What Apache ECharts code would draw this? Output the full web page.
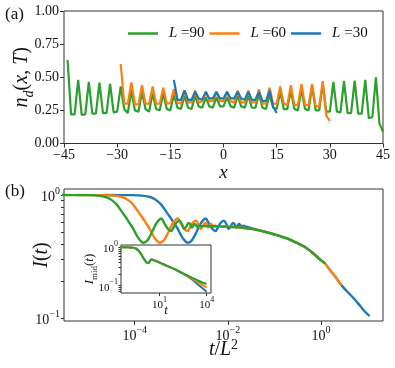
<!DOCTYPE html>
<html>
<head>
<meta charset="utf-8">
<script src="https://cdn.jsdelivr.net/npm/echarts@6/dist/echarts.min.js"></script>
<style>
html, body { margin: 0; padding: 0; background: #fff; }
#chart { width: 395px; height: 368px; }
</style>
</head>
<body>
<div id="chart"></div>
<script>
var FONT = '"Liberation Serif", "DejaVu Serif", serif';
var GREEN = '#2ca02c', ORANGE = '#ff7f0e', BLUE = '#1f77b4';
var AXIS = '#333';

// (a) n_d(x,T), one value per site, x = -L/2+1 ... L/2
var nd90 = [
	0.63, 0.22, 0.22,  0.48, 0.215, 0.22,  0.465, 0.225, 0.225,  0.46, 0.23, 0.23,
	0.45, 0.235, 0.24,  0.43, 0.26, 0.23,  0.40, 0.25, 0.24,  0.39, 0.26, 0.24,
	0.38, 0.26, 0.25,  0.38, 0.26, 0.25,  0.37, 0.27, 0.26,  0.36, 0.27, 0.26,
	0.36, 0.28, 0.27,  0.35, 0.28, 0.27,  0.35, 0.28, 0.28,  0.35, 0.28, 0.27,
	0.36, 0.28, 0.27,  0.36, 0.27, 0.27,  0.37, 0.27, 0.26,  0.37, 0.27, 0.26,
	0.39, 0.26, 0.26,  0.40, 0.26, 0.25,  0.41, 0.26, 0.25,  0.43, 0.25, 0.25,
	0.45, 0.24, 0.24,  0.465, 0.24, 0.235,  0.47, 0.23, 0.23,  0.475, 0.225, 0.225,
	0.48, 0.19, 0.20,  0.50, 0.15, 0.09
];
var nd60 = [
	0.60, 0.30, 0.30,  0.46, 0.295, 0.295,  0.44, 0.30, 0.30,  0.43, 0.30, 0.30,
	0.42, 0.30, 0.305,  0.41, 0.31, 0.30,  0.40, 0.31, 0.31,  0.40, 0.31, 0.32,
	0.39, 0.32, 0.32,  0.39, 0.32, 0.32,  0.39, 0.32, 0.31,  0.40, 0.31, 0.31,
	0.40, 0.31, 0.31,  0.41, 0.30, 0.30,  0.42, 0.30, 0.30,  0.43, 0.30, 0.29,
	0.44, 0.29, 0.29,  0.45, 0.29, 0.29,  0.45, 0.28, 0.28,  0.47, 0.21, 0.17
];
var nd30 = [
	0.48, 0.33, 0.33,  0.40, 0.33, 0.33,  0.39, 0.34, 0.33,  0.39, 0.34, 0.34,
	0.39, 0.34, 0.34,  0.39, 0.34, 0.34,  0.39, 0.34, 0.33,  0.39, 0.33, 0.33,
	0.39, 0.32, 0.32,  0.40, 0.28, 0.23
];

// (b) early times: I(t) is the same for every L, read in t
var earlyT = [0.02, 0.08, 0.13, 0.2, 0.26, 0.33, 0.42, 0.52, 0.63, 0.76, 0.88, 1.0, 1.22, 1.45, 1.7,
	2.0, 2.36, 2.7, 3.0, 3.5, 4.2, 4.9, 5.6, 6.2, 7.4, 8.4, 9.3, 10.4, 11.5, 12.6, 13.6, 14.6,
	15.6, 16.8, 18.0, 19.3, 20.5];
var earlyI = [1.0, 0.998, 0.99, 0.96, 0.91, 0.84, 0.74, 0.66, 0.59, 0.53, 0.475, 0.44, 0.41, 0.42, 0.46,
	0.52, 0.59, 0.63, 0.645, 0.59, 0.53, 0.51, 0.55, 0.59, 0.62, 0.58, 0.53, 0.555, 0.595, 0.58, 0.545, 0.56,
	0.585, 0.57, 0.55, 0.565, 0.56];
// (b) late times: collapse on t/L^2
var lateX = [0.0025, 0.005, 0.01, 0.0229, 0.05, 0.1, 0.2, 0.3, 0.447, 0.63, 0.79, 1.0, 1.23,
	1.58, 2.0, 2.77, 3.5, 5.0, 7.1, 8.9, 11.1];
var lateI = [0.565, 0.56, 0.553, 0.54, 0.515, 0.48, 0.44, 0.41, 0.38, 0.345, 0.32, 0.296, 0.278,
	0.245, 0.22, 0.185, 0.168, 0.146, 0.125, 0.113, 0.104];

// inset: I_mid(t)
var insetT = [0.03, 0.1, 0.2, 0.3, 0.45, 0.7, 1.0, 1.4, 1.9, 2.5, 3.1, 5, 10, 35, 100, 300, 1000, 3000, 10000];
var insetI90 = [1.0, 0.995, 0.98, 0.93, 0.82, 0.64, 0.5, 0.41, 0.39, 0.45, 0.48, 0.45, 0.40, 0.318, 0.265, 0.21, 0.168, 0.135, 0.11];
var insetI60 = [1.0, 0.995, 0.98, 0.93, 0.82, 0.64, 0.5, 0.41, 0.39, 0.45, 0.48, 0.45, 0.40, 0.318, 0.265, 0.21, 0.16, 0.12, 0.09];
var insetI30 = [1.0, 0.995, 0.98, 0.93, 0.82, 0.64, 0.5, 0.41, 0.39, 0.45, 0.48, 0.45, 0.40, 0.318, 0.262, 0.205, 0.152, 0.105, 0.07];

var names = ['L =90', 'L =60', 'L =30'];

function sites(vals, L) {
	var out = [];
	for (var i = 0; i < vals.length; i++) out.push([i - L / 2 + 1, vals[i]]);
	return out;
}

function collapsed(L) {
	var L2 = L * L, pts = [];
	for (var i = 0; i < earlyT.length; i++) {
		if (earlyT[i] <= 20.5) pts.push([earlyT[i] / L2, earlyI[i]]);
	}
	for (var j = 0; j < lateX.length; j++) {
		if (lateX[j] >= 22 / L2 && lateX[j] <= 1e4 / L2) pts.push([lateX[j], lateI[j]]);
	}
	return pts;
}

function pairs(xs, ys) {
	var out = [];
	for (var i = 0; i < xs.length; i++) out.push([xs[i], ys[i]]);
	return out;
}

function pow10(v) {
	var e = Math.round(Math.log10(v));
	return '{b|10}{s|' + String(e).replace('-', '\u2212') + '}';
}

function richPow(size) {
	var small = Math.round(size * 0.7);
	return {
		b: { fontFamily: FONT, fontSize: size, color: '#111', lineHeight: size + 4, verticalAlign: 'bottom' },
		s: { fontFamily: FONT, fontSize: small, color: '#111', lineHeight: small, verticalAlign: 'top' }
	};
}

var minorMain = [0.1, 0.2, 0.3, 0.4, 0.5, 0.6, 0.7, 0.8, 0.9, 1];
var minorInset = [0.07, 0.08, 0.09, 0.1, 0.2, 0.3, 0.4, 0.5, 0.6, 0.7, 0.8, 0.9, 1];

function lineSeries(name, data, color, x, y, z, width) {
	return {
		name: name, type: 'line', data: data,
		xAxisIndex: x, yAxisIndex: y, z: z,
		showSymbol: false, symbol: 'none', smooth: x > 0 ? 0.3 : false,
		lineStyle: { color: color, width: width },
		itemStyle: { color: color },
		animation: false
	};
}

var chart = echarts.init(document.getElementById('chart'));

var option = {
	animation: false,
	backgroundColor: '#fff',
	grid: [
		{ left: 64, top: 11, width: 319, height: 132.5, show: true, borderColor: AXIS, borderWidth: 1, backgroundColor: 'transparent' },
		{ left: 64, top: 189, width: 319, height: 132, show: true, borderColor: AXIS, borderWidth: 1, backgroundColor: 'transparent' },
		{ left: 121, top: 245, width: 90, height: 48, show: true, borderColor: AXIS, borderWidth: 1, backgroundColor: '#fff', z: 10 }
	],
	legend: {
		left: 128, top: 18, padding: 0, itemGap: 5,
		itemWidth: 30, itemHeight: 2.5, icon: 'rect',
		data: names,
		formatter: function (n) { return '{i|L} =' + n.split('=')[1]; },
		textStyle: {
			fontFamily: FONT, fontSize: 15, color: '#111',
			rich: { i: { fontFamily: FONT, fontSize: 15, fontStyle: 'italic', color: '#111', padding: [0, 0, 0, 6] } }
		}
	},
	xAxis: [
		{
			gridIndex: 0, type: 'value', min: -45, max: 45, interval: 15,
			name: 'x', nameLocation: 'middle', nameGap: 20, nameMoveOverlap: false,
			nameTextStyle: { fontFamily: FONT, fontSize: 19, fontStyle: 'italic', color: '#111' },
			axisLine: { show: false, onZero: false }, splitLine: { show: false },
			axisTick: { length: 4, lineStyle: { color: AXIS } },
			axisLabel: {
				margin: 5, fontFamily: FONT, fontSize: 14, color: '#111',
				formatter: function (v) { return v < 0 ? '\u2212' + Math.abs(v) : String(v); }
			}
		},
		{
			gridIndex: 1, type: 'log', min: 3.02e-6, max: 21.6,
			name: '{i|t}{r|/}{i|L}{s|2}', nameLocation: 'middle', nameGap: 17, nameMoveOverlap: false,
			nameTextStyle: {
				rich: {
					i: { fontFamily: FONT, fontSize: 20, fontStyle: 'italic', color: '#111', lineHeight: 22, verticalAlign: 'bottom' },
					r: { fontFamily: FONT, fontSize: 20, color: '#111', lineHeight: 22, verticalAlign: 'bottom' },
					s: { fontFamily: FONT, fontSize: 14, color: '#111', lineHeight: 14, verticalAlign: 'top' }
				}
			},
			axisLine: { show: false, onZero: false }, splitLine: { show: false },
			axisTick: { length: 4, lineStyle: { color: AXIS }, customValues: [1e-4, 1e-2, 1] },
			axisLabel: { margin: 4, customValues: [1e-4, 1e-2, 1], formatter: pow10, rich: richPow(14) }
		},
		{
			gridIndex: 2, type: 'log', min: 0.0344, max: 1.9e4, z: 11,
			name: 't', nameLocation: 'middle', nameGap: 11, nameMoveOverlap: false,
			nameTextStyle: { fontFamily: FONT, fontSize: 13, fontStyle: 'italic', color: '#111' },
			axisLine: { show: false, onZero: false }, splitLine: { show: false },
			axisTick: { length: 3, lineStyle: { color: AXIS }, customValues: [10, 1e4] },
			axisLabel: { margin: 3, customValues: [10, 1e4], formatter: pow10, rich: richPow(11) }
		}
	],
	yAxis: [
		{
			gridIndex: 0, type: 'value', min: 0, max: 1, interval: 0.25,
			name: '{i|n}{d|d}{r|(}{i|x}{r|, }{i|T}{r|)}', nameLocation: 'middle', nameGap: 28, nameRotate: 90,
			nameMoveOverlap: false,
			nameTextStyle: {
				rich: {
					i: { fontFamily: FONT, fontSize: 20, fontStyle: 'italic', color: '#111', lineHeight: 24, verticalAlign: 'top' },
					r: { fontFamily: FONT, fontSize: 20, color: '#111', lineHeight: 24, verticalAlign: 'top' },
					d: { fontFamily: FONT, fontSize: 14, fontStyle: 'italic', color: '#111', lineHeight: 14, verticalAlign: 'bottom' }
				}
			},
			axisLine: { show: false, onZero: false }, splitLine: { show: false },
			axisTick: { length: 4, lineStyle: { color: AXIS } },
			axisLabel: {
				margin: 5, fontFamily: FONT, fontSize: 14, color: '#111',
				formatter: function (v) { return v.toFixed(2); }
			}
		},
		{
			gridIndex: 1, type: 'log', min: 0.095, max: 1.12,
			name: '{i|I}{r|(}{i|t}{r|)}', nameLocation: 'middle', nameGap: 12, nameRotate: 90,
			nameMoveOverlap: false,
			nameTextStyle: {
				rich: {
					i: { fontFamily: FONT, fontSize: 20, fontStyle: 'italic', color: '#111' },
					r: { fontFamily: FONT, fontSize: 20, color: '#111' }
				}
			},
			axisLine: { show: false, onZero: false }, splitLine: { show: false },
			axisTick: { length: 3, lineStyle: { color: AXIS }, customValues: minorMain },
			axisLabel: { margin: 4, customValues: [0.1, 1], formatter: pow10, rich: richPow(14) }
		},
		{
			gridIndex: 2, type: 'log', min: 0.0647, max: 1.147, z: 11,
			name: '{i|I}{m|mid}{r|(}{i|t}{r|)}', nameLocation: 'middle', nameGap: 22, nameRotate: 90,
			nameMoveOverlap: false,
			nameTextStyle: {
				rich: {
					i: { fontFamily: FONT, fontSize: 13, fontStyle: 'italic', color: '#111', lineHeight: 16, verticalAlign: 'top' },
					r: { fontFamily: FONT, fontSize: 13, color: '#111', lineHeight: 16, verticalAlign: 'top' },
					m: { fontFamily: FONT, fontSize: 9, color: '#111', lineHeight: 9, verticalAlign: 'bottom' }
				}
			},
			axisLine: { show: false, onZero: false }, splitLine: { show: false },
			axisTick: { length: 2.5, lineStyle: { color: AXIS }, customValues: minorInset },
			axisLabel: { margin: 3, customValues: [0.1, 1], formatter: pow10, rich: richPow(11) }
		}
	],
	graphic: [
		{ type: 'text', left: 5, top: 6, style: { text: '(a)', fontFamily: FONT, fontSize: 17, fill: '#111' } },
		{ type: 'text', left: 5, top: 183, style: { text: '(b)', fontFamily: FONT, fontSize: 17, fill: '#111' } }
	],
	series: [
		lineSeries(names[0], sites(nd90, 90), GREEN, 0, 0, 2, 2.2),
		lineSeries(names[1], sites(nd60, 60), ORANGE, 0, 0, 3, 2.2),
		lineSeries(names[2], sites(nd30, 30), BLUE, 0, 0, 4, 2.2),

		lineSeries(names[2], collapsed(30), BLUE, 1, 1, 2, 2.4),
		lineSeries(names[1], collapsed(60), ORANGE, 1, 1, 3, 2.4),
		lineSeries(names[0], collapsed(90), GREEN, 1, 1, 4, 2.4),

		lineSeries(names[2], pairs(insetT, insetI30), BLUE, 2, 2, 12, 2),
		lineSeries(names[1], pairs(insetT, insetI60), ORANGE, 2, 2, 13, 2),
		lineSeries(names[0], pairs(insetT, insetI90), GREEN, 2, 2, 14, 2)
	]
};
option.legend.top = 26;

chart.setOption(option);
</script>
</body>
</html>
